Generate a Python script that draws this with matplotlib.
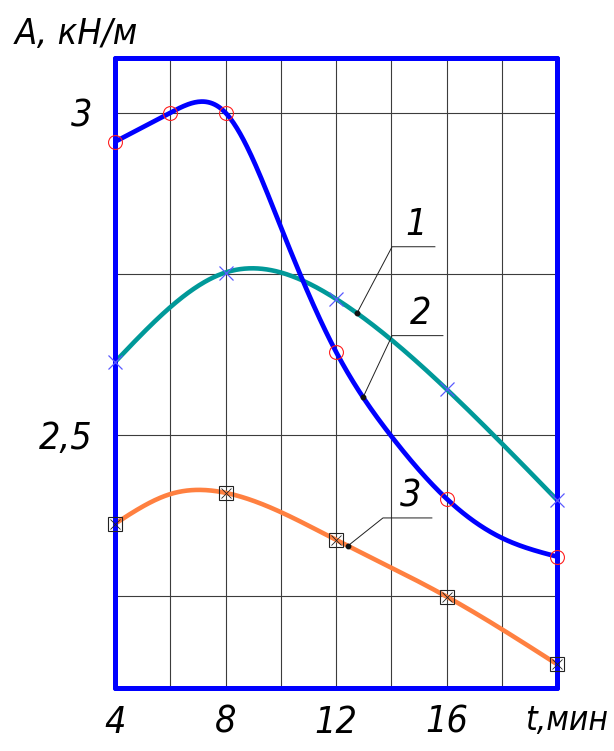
import numpy as np
import matplotlib

matplotlib.use("Agg")
import matplotlib.pyplot as plt

plt.rcParams["font.family"] = ["DejaVu Sans"]
plt.rcParams["font.style"] = "italic"
plt.rcParams["font.stretch"] = "condensed"

# measured points, t in min
t = [4, 6, 8, 12, 16, 20]
t5 = [4, 8, 12, 16, 20]

# curve 2 (blue, circles)
a2 = [2.955, 3.0, 3.0, 2.629, 2.401, 2.311]
# curve 1 (teal, crosses)
a1 = [2.613, 2.752, 2.711, 2.571, 2.399]
# curve 3 (orange, boxed crosses)
a3 = [2.362, 2.410, 2.337, 2.249, 2.144]

# extra readings along the drawn curves between the measured points
t2_line = [4, 6, 8, 10, 12, 14, 16, 18, 20]
a2_line = [2.955, 3.0, 3.0, 2.823, 2.629, 2.498, 2.401, 2.340, 2.311]
t3_line = [4, 6, 8, 12, 16, 20]
a3_line = [2.362, 2.408, 2.410, 2.337, 2.249, 2.144]

x_ticks = [4, 8, 12, 16]
x_ticklabels = ["4", "8", "12", "16"]
y_ticks = [2.5, 3.0]
y_ticklabels = ["2,5", "3"]


def natural_spline(xk, yk, xs):
    xk = np.asarray(xk, float)
    yk = np.asarray(yk, float)
    n = len(xk)
    h = np.diff(xk)
    A = np.zeros((n, n))
    r = np.zeros(n)
    A[0, 0] = A[-1, -1] = 1.0
    for i in range(1, n - 1):
        A[i, i - 1] = h[i - 1]
        A[i, i] = 2 * (h[i - 1] + h[i])
        A[i, i + 1] = h[i]
        r[i] = 6 * ((yk[i + 1] - yk[i]) / h[i] - (yk[i] - yk[i - 1]) / h[i - 1])
    m = np.linalg.solve(A, r)
    xs = np.asarray(xs, float)
    j = np.clip(np.searchsorted(xk, xs) - 1, 0, n - 2)
    x0, x1 = xk[j], xk[j + 1]
    hj = x1 - x0
    u = x1 - xs
    v = xs - x0
    return (m[j] * u**3 + m[j + 1] * v**3) / (6 * hj) + \
        (yk[j] / hj - m[j] * hj / 6) * u + (yk[j + 1] / hj - m[j + 1] * hj / 6) * v


fig = plt.figure(figsize=(6.14, 7.51), dpi=100)
ax = fig.add_axes([115 / 614, 63 / 751, 442 / 614, 630 / 751])
ax.set_xlim(4, 20)
ax.set_ylim(2.107, 3.085)

# grid
for gx in range(6, 20, 2):
    ax.axvline(gx, color="#3c3c3c", lw=0.8, zorder=1)
for gy in [2.25, 2.5, 2.75, 3.0]:
    ax.axhline(gy, color="#3c3c3c", lw=0.8, zorder=1)

xs = np.linspace(4, 20, 400)
ax.plot(xs, natural_spline(t5, a1, xs), color="#009999", lw=3.3, zorder=3,
        solid_capstyle="round")
ax.plot(xs, natural_spline(t2_line, a2_line, xs), color="#0000ff", lw=3.4,
        zorder=3, solid_capstyle="round")
ax.plot(xs, natural_spline(t3_line, a3_line, xs), color="#ff8040", lw=3.3,
        zorder=3, solid_capstyle="round")

# markers
ax.plot(t, a2, ls="none", marker="o", ms=10, mfc="none", mec="#ff2020",
        mew=0.8, zorder=5, clip_on=False)
ax.plot(t5, a1, ls="none", marker="x", ms=10, mec="#5a5aff", mew=0.9,
        zorder=5, clip_on=False)
ax.plot(t5, a3, ls="none", marker="s", ms=10, mfc="none", mec="#222222",
        mew=0.8, zorder=5, clip_on=False)
ax.plot(t5, a3, ls="none", marker="x", ms=7, mec="#222222", mew=0.6,
        zorder=5, clip_on=False)

# curve numbers with leaders
for num, xk, yk, xd, corner, end in [
    ("1", t5, a1, 12.76, (14.03, 2.792), 15.58),
    ("2", t2_line, a2_line, 12.98, (14.03, 2.654), 15.87),
    ("3", t3_line, a3_line, 12.43, (13.70, 2.371), 15.47),
]:
    yd = float(natural_spline(xk, yk, [xd])[0])
    ax.plot([xd, corner[0], end], [yd, corner[1], corner[1]],
            color="#202020", lw=0.7, zorder=6)
    ax.plot([xd], [yd], marker="o", ms=3.2, color="#111111", zorder=6)
    ax.text((corner[0] + end) / 2 + 0.1, corner[1] + 0.006, num,
            fontsize=27, ha="center", va="bottom", zorder=6)

for side in ax.spines.values():
    side.set_color("#0000ff")
    side.set_linewidth(3.6)
    side.set_capstyle("round")
    side.set_zorder(4)

ax.set_xticks(x_ticks)
ax.set_xticklabels(x_ticklabels, fontsize=27)
ax.set_yticks(y_ticks)
ax.set_yticklabels(y_ticklabels, fontsize=27)
ax.tick_params(length=0, pad=16)
ax.tick_params(axis="x", pad=12)

fig.text(15 / 614, 1 - 44 / 751, "A, кН/м", fontsize=26, ha="left",
         va="baseline")
fig.text(608 / 614, 1 - 720 / 751, "t,мин", fontsize=24, ha="right",
         va="center")

fig.savefig("out.png", dpi=100)
